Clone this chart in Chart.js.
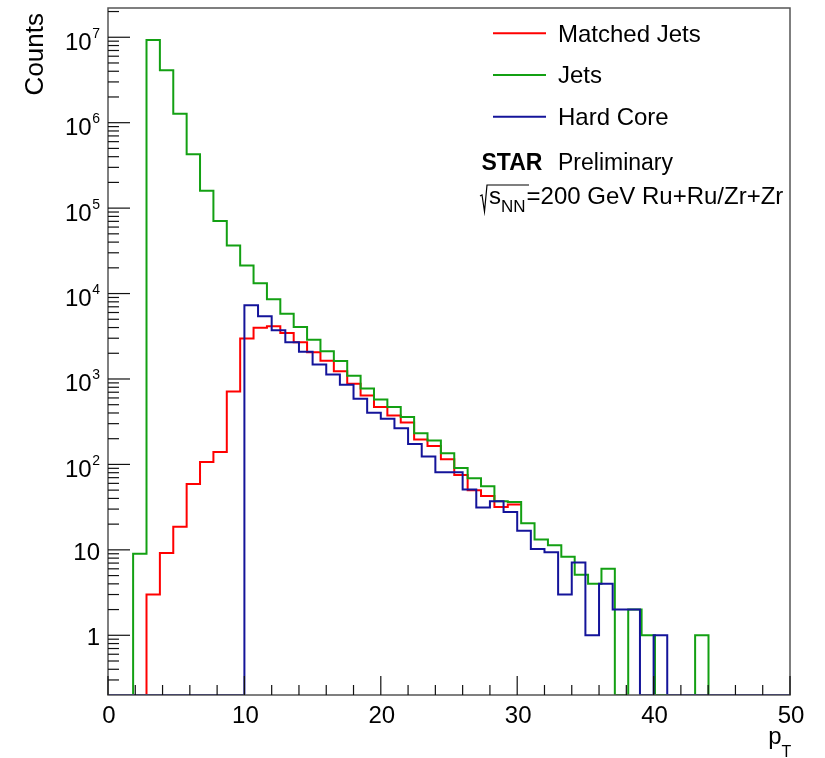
<!DOCTYPE html>
<html>
<head>
<meta charset="utf-8">
<title>Jet pT spectra</title>
<script src="https://cdn.jsdelivr.net/npm/chart.js@4.4.0/dist/chart.umd.min.js"></script>
<style>
  body { margin: 0; background: #fff; }
</style>
</head>
<body>
<canvas id="ptChart" width="825" height="758"></canvas>
<script>
// jets / matched jets share the same binning
const jetBinStart = -0.12;
const jetBinWidth = 0.981;
const matchedJetCounts = [0, 0, 0, 3, 9.2, 18.6, 59, 107, 140, 714,
  2980, 3980, 4140, 3460, 2690, 2060, 1640, 1230, 879, 641,
  469, 375, 310, 196, 164, 115, 75, 50, 42.7, 31.8,
  33.9, 20.5, 13.2, 11.3, 8.3, 5.1, 4, 6, 0, 2,
  1, 0, 0, 0, 1, 0, 0, 0, 0, 0, 0];
// above this bin matched jets equal jets and sit under the green line
const matchedVisibleBins = 31;
const jetCounts = [0, 0, 9, 9.3e6, 4.1e6, 1.27e6, 4.27e5, 1.6e5, 7.05e4, 3.66e4,
  2.13e4, 1.32e4, 8600, 5800, 4050, 2870, 2110, 1620, 1090, 774,
  576, 469, 358, 232, 191, 135, 91, 69, 55.5, 37,
  36.4, 20.5, 13.2, 11.3, 8.3, 5.1, 4, 6, 0, 2,
  1, 0, 0, 0, 1, 0, 0, 0, 0, 0, 0];
// hard core jets, unit bins from 0
const coreBinStart = 0;
const coreBinWidth = 1;
const hardCoreCounts = [0, 0, 0, 0, 0, 0, 0, 0, 0, 0,
  7280, 5420, 3720, 2690, 2080, 1480, 1130, 855, 587, 403,
  343, 265, 173, 124, 81, 81, 51, 31.3, 37, 27.8,
  16.7, 10.2, 9.4, 3.0, 7.1, 1, 4, 2, 2, 0,
  1, 0, 0, 0, 0, 0, 0, 0, 0, 0];

const seriesNames = ['Matched Jets', 'Jets', 'Hard Core'];
const seriesColors = ['#ff0000', '#13a013', '#14149a'];

const xMin = 0, xMax = 50;
const yMin = 0.2, yMax = 2.2e7;
const xMajorTicks = [0, 10, 20, 30, 40, 50];
const xMinorStep = 2;
const yDecades = [0, 1, 2, 3, 4, 5, 6, 7];
const yTickBase = ['1', '10', '10', '10', '10', '10', '10', '10'];
const yTickExp = ['', '', '2', '3', '4', '5', '6', '7'];

const FONT = '"Liberation Sans", Arial, Helvetica, sans-serif';

function histPoints(counts, start, width) {
  const pts = counts.map((c, i) => ({ x: start + i * width, y: Math.max(c, yMin) }));
  const last = counts[counts.length - 1];
  pts.push({ x: start + counts.length * width, y: Math.max(last, yMin) });
  return pts;
}

function line(ctx, x1, y1, x2, y2) {
  ctx.beginPath();
  ctx.moveTo(x1, y1);
  ctx.lineTo(x2, y2);
  ctx.stroke();
}

// ROOT-like frame, inward ticks, labels and legend
const rootDecor = {
  id: 'rootDecor',
  afterDraw(chart) {
    const ctx = chart.ctx;
    const a = chart.chartArea;
    const xs = chart.scales.x;
    const ys = chart.scales.y;
    ctx.save();

    ctx.strokeStyle = '#555';
    ctx.lineWidth = 1.5;
    ctx.strokeRect(a.left, a.top, a.right - a.left, a.bottom - a.top);

    // x ticks
    ctx.strokeStyle = '#111';
    ctx.lineWidth = 1.2;
    for (let v = xMin; v <= xMax; v += xMinorStep) {
      const px = xs.getPixelForValue(v);
      const len = xMajorTicks.includes(v) ? 19 : 10;
      line(ctx, px, a.bottom, px, a.bottom - len);
    }
    // y ticks
    for (let d = -1; d <= 7; d++) {
      for (let m = 1; m <= 9; m++) {
        const v = m * Math.pow(10, d);
        if (v <= yMin * 1.01 || v > yMax) continue;
        const py = ys.getPixelForValue(v);
        line(ctx, a.left, py, a.left + (m === 1 ? 22 : 11), py);
      }
    }

    ctx.fillStyle = '#000';
    // x labels
    ctx.font = '24px ' + FONT;
    ctx.textAlign = 'center';
    ctx.textBaseline = 'alphabetic';
    xMajorTicks.forEach(v => {
      ctx.fillText(String(v), xs.getPixelForValue(v) + 1, 723);
    });

    // y labels
    ctx.textAlign = 'right';
    yDecades.forEach((d, i) => {
      const py = ys.getPixelForValue(Math.pow(10, d));
      const right = 100;
      if (yTickExp[i]) {
        ctx.font = '14px ' + FONT;
        const ew = ctx.measureText(yTickExp[i]).width;
        ctx.fillText(yTickExp[i], right, py + 0.5);
        ctx.font = '24px ' + FONT;
        ctx.fillText(yTickBase[i], right - ew - 0.5, py + 12.5);
      } else {
        ctx.font = '24px ' + FONT;
        ctx.fillText(yTickBase[i], right, py + 10);
      }
    });

    // axis titles
    ctx.save();
    ctx.translate(43, 13);
    ctx.rotate(-Math.PI / 2);
    ctx.font = '26px ' + FONT;
    ctx.textAlign = 'right';
    ctx.fillText('Counts', 0, 0);
    ctx.restore();

    ctx.textAlign = 'left';
    ctx.font = '24px ' + FONT;
    const pw = ctx.measureText('p').width;
    ctx.fillText('p', 781.5 - pw, 744);
    ctx.font = '16px ' + FONT;
    ctx.fillText('T', 781.5, 756.5);

    // legend
    const rows = [33.3, 75, 116.7];
    seriesNames.forEach((name, i) => {
      ctx.strokeStyle = seriesColors[i];
      ctx.lineWidth = 2;
      line(ctx, 493, rows[i], 546, rows[i]);
      ctx.font = '24px ' + FONT;
      ctx.fillText(name, 558, rows[i] + 8.4);
    });

    ctx.font = 'bold 23px ' + FONT;
    ctx.fillText('STAR', 481.5, 170);
    ctx.font = '23px ' + FONT;
    ctx.fillText('Preliminary', 558, 170);

    // sqrt(s_NN) line
    ctx.strokeStyle = '#000';
    ctx.lineWidth = 1.2;
    ctx.beginPath();
    ctx.moveTo(480, 196);
    ctx.lineTo(482, 195);
    ctx.lineTo(484.5, 211.5);
    ctx.lineTo(487, 185);
    ctx.lineTo(529, 185);
    ctx.stroke();
    ctx.font = '24px ' + FONT;
    ctx.fillText('s', 489, 204);
    let cx = 489 + ctx.measureText('s').width;
    ctx.font = '17px ' + FONT;
    ctx.fillText('NN', cx, 211.5);
    cx += ctx.measureText('NN').width;
    ctx.font = '24px ' + FONT;
    ctx.fillText('=200 GeV Ru+Ru/Zr+Zr', cx + 1, 204);

    ctx.restore();
  }
};

const datasets = [
  { label: seriesNames[0], data: histPoints(matchedJetCounts.slice(0, matchedVisibleBins), jetBinStart, jetBinWidth), borderColor: seriesColors[0], order: 3 },
  { label: seriesNames[1], data: histPoints(jetCounts, jetBinStart, jetBinWidth), borderColor: seriesColors[1], order: 2 },
  { label: seriesNames[2], data: histPoints(hardCoreCounts, coreBinStart, coreBinWidth), borderColor: seriesColors[2], order: 1 }
].map(ds => Object.assign(ds, {
  stepped: 'before',
  borderWidth: 2,
  pointRadius: 0,
  fill: false,
  tension: 0
}));

new Chart(document.getElementById('ptChart'), {
  type: 'line',
  data: { datasets: datasets },
  options: {
    responsive: false,
    animation: false,
    devicePixelRatio: 1,
    layout: { padding: { left: 108, right: 35, top: 8, bottom: 63 } },
    plugins: { legend: { display: false }, tooltip: { enabled: false } },
    scales: {
      x: { type: 'linear', min: xMin, max: xMax, display: false },
      y: { type: 'logarithmic', min: yMin, max: yMax, bounds: 'data', display: false }
    }
  },
  plugins: [rootDecor]
});
</script>
</body>
</html>
